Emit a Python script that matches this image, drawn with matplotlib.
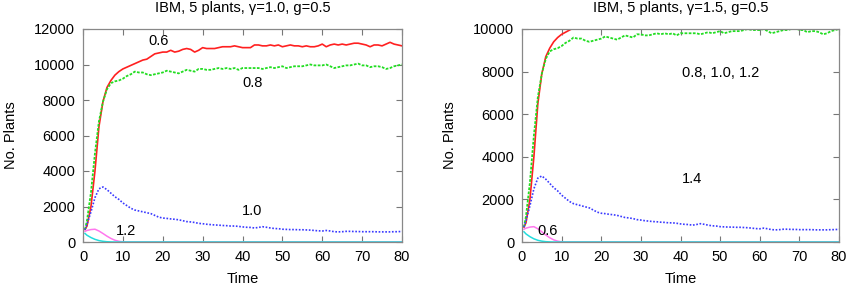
import matplotlib.pyplot as plt

# time points (both panels show the same runs)
t = [0.5] + list(range(1, 81))
t_short = [0.5, 1, 2, 3, 4, 5, 6, 7, 8, 9, 10, 11, 12, 80]

red = [700, 900, 2000, 4000, 6500, 7900, 8700, 9100, 9400, 9600, 9750, 9850, 9950, 10050, 10150,
       10250, 10300, 10450, 10600, 10650, 10700, 10700, 10800, 10700, 10750, 10850, 10900, 10850,
       10700, 10800, 10950, 10900, 10900, 10900, 10950, 11000, 11000, 11000, 11050, 11000, 10950,
       10950, 10950, 11100, 11100, 11050, 11050, 11100, 11050, 11100, 11000, 11050, 11100, 11050,
       11050, 11000, 11050, 11000, 11000, 11050, 11150, 11000, 11100, 11150, 11100, 11150, 11100,
       11150, 11200, 11200, 11150, 11100, 11000, 11100, 11100, 11050, 11150, 11250, 11150, 11100,
       11050]
green = [700, 1200, 2800, 5000, 6800, 7900, 8600, 8950, 9050, 9100, 9200, 9350, 9450, 9600, 9550,
         9550, 9450, 9400, 9450, 9500, 9550, 9650, 9600, 9550, 9500, 9600, 9700, 9650, 9600, 9750,
         9750, 9700, 9700, 9750, 9800, 9750, 9800, 9750, 9800, 9700, 9800, 9800, 9800, 9800, 9800,
         9750, 9800, 9850, 9800, 9850, 9900, 9800, 9850, 9900, 9900, 9900, 9950, 10000, 9950, 9950,
         9950, 10000, 9900, 9800, 9850, 9900, 9950, 9950, 10000, 10050, 9950, 9950, 9850, 9900,
         9900, 9850, 9750, 9800, 9900, 9950, 10000]
blue = [700, 1000, 1700, 2500, 3000, 3100, 2950, 2750, 2550, 2400, 2200, 2050, 1900, 1800, 1750,
        1700, 1650, 1600, 1500, 1400, 1350, 1330, 1300, 1280, 1250, 1200, 1150, 1130, 1100, 1050,
        1030, 1000, 980, 960, 950, 930, 920, 900, 900, 880, 850, 830, 820, 790, 820, 860, 830, 790,
        760, 750, 720, 710, 700, 700, 690, 690, 680, 670, 650, 630, 620, 650, 620, 580, 570, 580,
        600, 600, 590, 590, 580, 580, 580, 580, 570, 570, 570, 570, 580, 580, 600]
magenta = [600, 650, 700, 720, 620, 480, 330, 200, 100, 40, 10, 0, 0, 0]
cyan = [480, 380, 250, 150, 80, 40, 15, 5, 0, 0, 0, 0, 0, 0]

titles = ["IBM, 5 plants, γ=1.0, g=0.5", "IBM, 5 plants, γ=1.5, g=0.5"]
ymax = [12000, 10000]
labels = [
    [("0.6", 19, 11350), ("0.8", 42.5, 8950), ("1.0", 42.5, 1750), ("1.2", 10.8, 620)],
    [("0.8, 1.0, 1.2", 50, 7950), ("1.4", 43, 2950), ("0.6", 6.5, 520)],
]

plt.rcParams['font.family'] = ['Liberation Sans', 'DejaVu Sans']
plt.rcParams['font.size'] = 10.5

fig = plt.figure(figsize=(8.5, 2.86), dpi=100)
boxes = [[83 / 850, 44 / 286, 319 / 850, 213 / 286],
         [522 / 850, 44 / 286, 317 / 850, 213 / 286]]

for i, box in enumerate(boxes):
    ax = fig.add_axes(box)
    ax.plot(t, red, '-', color='#ff2020', lw=1.2)
    ax.plot(t, green, color='#22dd22', lw=1.3, dashes=(1.5, 0.8))
    ax.plot(t, blue, color='#3a3aff', lw=1.2, dashes=(1, 1))
    ax.plot(t_short, magenta, '-', color='#ff77ee', lw=1.1)
    ax.plot(t_short, cyan, '-', color='#22dddd', lw=1.1)
    ax.set_xlim(0, 80)
    ax.set_ylim(0, ymax[i])
    ax.set_xticks(range(0, 81, 10))
    ax.set_yticks(range(0, ymax[i] + 1, 2000))
    ax.tick_params(direction='in', top=True, right=True, length=4, color='#777777', pad=5.5)
    for s in ax.spines.values():
        s.set_color('#888888')
        s.set_linewidth(0.9)
    ax.set_title(titles[i], fontsize=10.5, pad=12)
    ax.set_xlabel('Time', labelpad=6)
    ax.set_ylabel('No. Plants', labelpad=12)
    for txt, x, y in labels[i]:
        ax.text(x, y, txt, ha='center', va='center')

fig.savefig('out.png', dpi=100)
